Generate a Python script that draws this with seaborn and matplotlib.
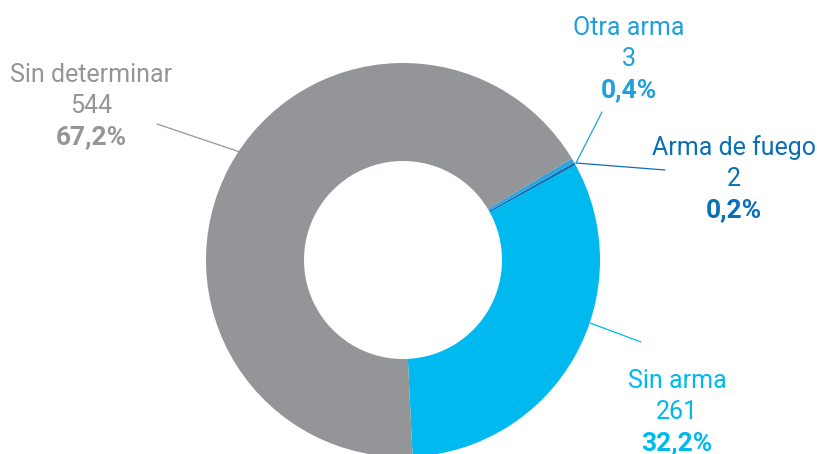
import matplotlib
matplotlib.use("Agg")
import matplotlib.pyplot as plt
import seaborn as sns

# -----------------------------
# DATA
# -----------------------------
categories = ["Sin arma", "Arma de fuego", "Otra arma", "Sin determinar"]
counts = [261, 2, 3, 544]
percent_labels = ["32,2%", "0,2%", "0,4%", "67,2%"]
colors = ["#00b9ef", "#0b72b9", "#2fa3dc", "#939598"]
text_colors = ["#00b9ef", "#0b6fb5", "#1fa0dd", "#939598"]

sns.set_theme(style="white")
plt.rcParams["font.family"] = ["Roboto", "DejaVu Sans"]

W, H = 817, 454
fig = plt.figure(figsize=(W / 100, H / 100), dpi=100)
ax = fig.add_axes([0, 0, 1, 1])

# -----------------------------
# DONUT
# -----------------------------
cx, cy, r = 403, H - 260, 197
ax.pie(counts, colors=colors, startangle=272.8, counterclock=True,
       center=(cx, cy), radius=r,
       wedgeprops=dict(width=98, linewidth=0))
ax.set_xlim(0, W)
ax.set_ylim(0, H)
ax.set_aspect("equal")
ax.axis("off")

# -----------------------------
# LABELS (pixel positions: x centre, baseline of first line from top)
# -----------------------------
label_pos = {
    "Sin arma": (677, 388),
    "Arma de fuego": (734, 155),
    "Otra arma": (629, 35),
    "Sin determinar": (91, 82),
}
leaders = {
    "Sin arma": [(590, 323), (641, 342)],
    "Arma de fuego": [(576, 163), (665, 170)],
    "Otra arma": [(576, 163), (602, 112)],
    "Sin determinar": [(157, 124), (240, 152)],
}

fs = 18
for cat, n, pct, tc in zip(categories, counts, percent_labels, text_colors):
    x, y = label_pos[cat]
    ax.text(x, H - y, cat, color=tc, fontsize=fs, fontweight="normal",
            ha="center", va="baseline")
    ax.text(x, H - y - 31, str(n), color=tc, fontsize=fs, fontweight="normal",
            ha="center", va="baseline")
    ax.text(x, H - y - 62, pct, color=tc, fontsize=fs + 1, fontweight="bold",
            ha="center", va="baseline")
    (x0, y0), (x1, y1) = leaders[cat]
    ax.plot([x0, x1], [H - y0, H - y1], color=tc, linewidth=0.9)

fig.savefig("out.png", dpi=100)
